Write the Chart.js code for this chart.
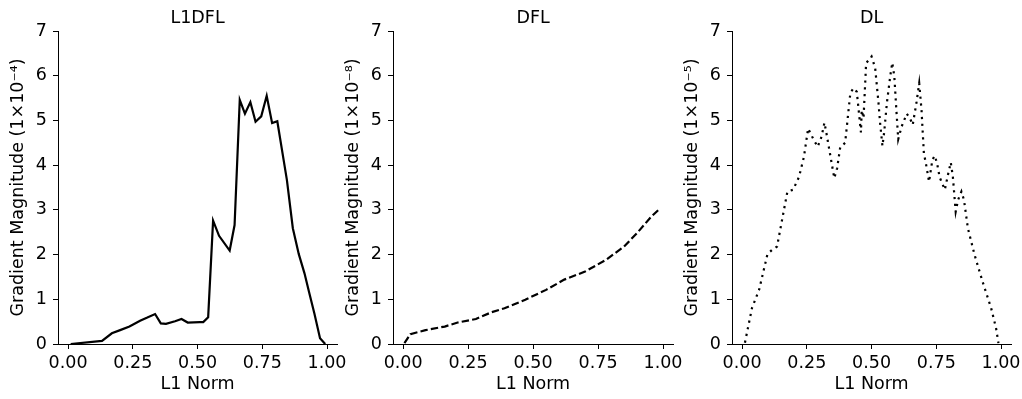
<!DOCTYPE html>
<html>
<head>
<meta charset="utf-8">
<script src="https://cdn.jsdelivr.net/npm/chart.js@4/dist/chart.umd.min.js"></script>
<style>
  html, body { margin: 0; padding: 0; background: #fff; overflow: hidden; }
  body { width: 1022px; height: 399px; position: relative; }
  canvas { position: absolute; top: 0; }
</style>
</head>
<body>
<canvas id="c1"></canvas>
<canvas id="c2"></canvas>
<canvas id="c3"></canvas>
<script>
// Werte
const X_TICKS = [0, 0.25, 0.5, 0.75, 1];
const TITLES = ["L1DFL", "DFL", "DL"];
const Y_LABELS = [
  "Gradient Magnitude (1×10⁻⁴)",
  "Gradient Magnitude (1×10⁻⁸)",
  "Gradient Magnitude (1×10⁻⁵)",
];
const X_LABEL = "L1 Norm";

const L1DFL_X = [0.01, 0.131, 0.169, 0.201, 0.237, 0.278, 0.306, 0.336, 0.358, 0.378,
  0.413, 0.438, 0.462, 0.509, 0.522, 0.541, 0.56, 0.583, 0.624, 0.643, 0.663, 0.683,
  0.704, 0.724, 0.746, 0.767, 0.788, 0.808, 0.845, 0.868, 0.891, 0.913, 0.932, 0.951,
  0.973, 0.993];
const L1DFL_Y = [0.0, 0.07, 0.24, 0.31, 0.39, 0.52, 0.59, 0.67, 0.46, 0.45,
  0.51, 0.56, 0.48, 0.49, 0.49, 0.6, 2.76, 2.42, 2.09, 2.66, 5.46, 5.15,
  5.41, 4.97, 5.09, 5.55, 4.94, 4.98, 3.67, 2.59, 2.01, 1.58, 1.13, 0.69,
  0.13, 0.0];

const DFL_X = [0.005, 0.028, 0.086, 0.16, 0.21, 0.28, 0.34, 0.39, 0.47, 0.55, 0.62,
  0.7, 0.78, 0.85, 0.9, 0.955, 0.99];
const DFL_Y = [0.02, 0.22, 0.31, 0.39, 0.48, 0.56, 0.71, 0.8, 0.99, 1.21, 1.44,
  1.62, 1.88, 2.18, 2.48, 2.85, 3.04];

const DL_X = [0.011, 0.038, 0.066, 0.098, 0.115, 0.135, 0.175, 0.197, 0.22, 0.239,
  0.255, 0.277, 0.292, 0.307, 0.318, 0.324, 0.356, 0.367, 0.379, 0.398, 0.418, 0.43,
  0.443, 0.459, 0.462, 0.469, 0.479, 0.5, 0.514, 0.527, 0.533, 0.542, 0.549, 0.559,
  0.572, 0.58, 0.588, 0.595, 0.603, 0.616, 0.636, 0.648, 0.659, 0.674, 0.684, 0.693,
  0.702, 0.712, 0.722, 0.735, 0.744, 0.753, 0.763, 0.783, 0.795, 0.806, 0.814, 0.825,
  0.834, 0.847, 0.857, 0.872, 0.898, 0.929, 0.962, 0.981, 0.99];
const DL_Y = [0.03, 0.8, 1.22, 2.01, 2.1, 2.18, 3.41, 3.45, 3.74, 4.19,
  4.82, 4.56, 4.41, 4.64, 4.95, 4.77, 3.71, 3.93, 4.4, 4.5, 5.61, 5.72,
  5.64, 4.73, 5.23, 5.05, 6.28, 6.43, 6.17, 5.38, 4.94, 4.43, 4.75, 5.38,
  5.98, 6.29, 5.98, 5.31, 4.58, 4.86, 5.15, 5.05, 4.9, 5.42, 5.83, 5.23,
  4.27, 3.97, 3.63, 4.12, 4.21, 4.04, 3.73, 3.45, 3.78, 4.06, 3.74, 2.96,
  3.22, 3.41, 3.22, 2.59, 1.99, 1.39, 0.8, 0.35, 0.02];

const FONT = { family: "'DejaVu Sans', sans-serif", size: 17.5 };

Chart.defaults.font.family = FONT.family;
Chart.defaults.font.size = FONT.size;
Chart.defaults.color = "#000";

// Ein Panel pro Canvas; spine = x-Position der linken Achse im Fenster
function makePanel(id, spine, right, title, yLabel, xs, ys, dash) {
  const left = spine - 58;
  const el = document.getElementById(id);
  el.style.left = left + "px";
  el.width = right + 12 - left;
  el.height = 399;
  const pts = xs.map((x, i) => ({ x: x, y: ys[i] }));
  return new Chart(el, {
    type: "line",
    data: {
      datasets: [{
        data: pts,
        borderColor: "#000",
        borderWidth: 2.2,
        borderDash: dash,
        borderCapStyle: "butt",
        pointRadius: 0,
        tension: 0,
        fill: false,
      }],
    },
    options: {
      responsive: false,
      animation: false,
      events: [],
      layout: { padding: { top: 0, right: 12, bottom: 0, left: 0 } },
      plugins: {
        legend: { display: false },
        tooltip: { enabled: false },
        title: {
          display: true, text: title, color: "#000", fullSize: false,
          font: { size: FONT.size, weight: "normal" },
          padding: { top: 7.5, bottom: 2.5 },
        },
      },
      scales: {
        x: {
          type: "linear", min: -0.039, max: 1.039,
          afterBuildTicks: (s) => { s.ticks = X_TICKS.map((v) => ({ value: v })); },
          afterFit: (s) => { s.height = 55; },
          ticks: { color: "#000", padding: 4, maxRotation: 0, callback: (v) => v.toFixed(2) },
          grid: { drawOnChartArea: false, drawTicks: true, tickLength: 5, color: "#000" },
          border: { display: true, color: "#000", width: 1 },
          title: { display: true, text: X_LABEL, color: "#000", padding: { top: 0, bottom: 4.5 } },
        },
        y: {
          min: 0, max: 7,
          afterFit: (s) => { s.width = 58; },
          ticks: { color: "#000", stepSize: 1, padding: 6 },
          grid: { drawOnChartArea: false, drawTicks: true, tickLength: 5, color: "#000" },
          border: { display: true, color: "#000", width: 1 },
          title: { display: true, text: yLabel, color: "#000", padding: { top: 7.5, bottom: 0 } },
        },
      },
    },
  });
}

makePanel("c1", 58, 339, TITLES[0], Y_LABELS[0], L1DFL_X, L1DFL_Y, []);
makePanel("c2", 393, 675, TITLES[1], Y_LABELS[1], DFL_X, DFL_Y, [7.4, 3.2]);
makePanel("c3", 732, 1013, TITLES[2], Y_LABELS[2], DL_X, DL_Y, [2.2, 4.6]);
</script>
</body>
</html>
